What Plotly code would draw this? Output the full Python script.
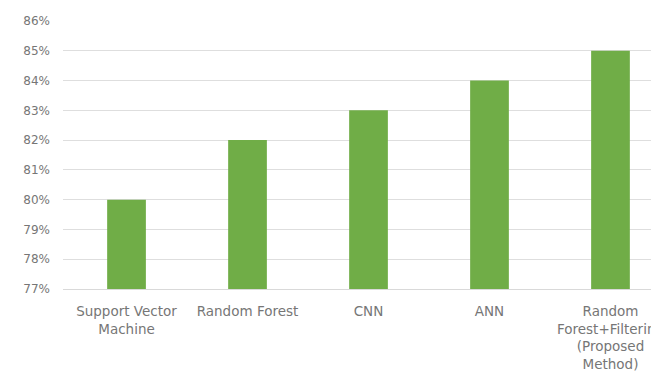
import plotly.graph_objects as go

categories = ["Support Vector<br>Machine", "Random Forest", "CNN", "ANN",
              "Random<br>Forest+Filtering<br>(Proposed<br>Method)"]
accuracy = [0.80, 0.82, 0.83, 0.84, 0.85]
y_ticks = [0.77, 0.78, 0.79, 0.80, 0.81, 0.82, 0.83, 0.84, 0.85, 0.86]

fig = go.Figure(go.Bar(x=categories, y=accuracy, marker_color="#70AD47",
                       marker_line_width=0))

# the page body adds an 8px offset, margins compensate for it
fig.update_layout(
    width=659, height=376,
    margin=dict(l=55, r=0, t=13, b=95),
    paper_bgcolor="white", plot_bgcolor="white",
    bargap=0.68,
    showlegend=False,
    font=dict(family="DejaVu Sans", size=12, color="#767676"),
)
fig.update_xaxes(range=[-0.525, 4.467], showline=True, linecolor="#d9d9d9",
                 linewidth=1, showgrid=False, ticks="", tickangle=0,
                 ticklabelstandoff=10, automargin=False,
                 tickfont=dict(size=13.5))
fig.update_yaxes(range=[0.77, 0.86], tickvals=y_ticks, tickformat=".0%",
                 showgrid=True, gridcolor="#dedede", gridwidth=1,
                 zeroline=False, ticks="", ticklabelstandoff=12,
                 automargin=False, tickfont=dict(size=12))

fig.write_html("out.html")
